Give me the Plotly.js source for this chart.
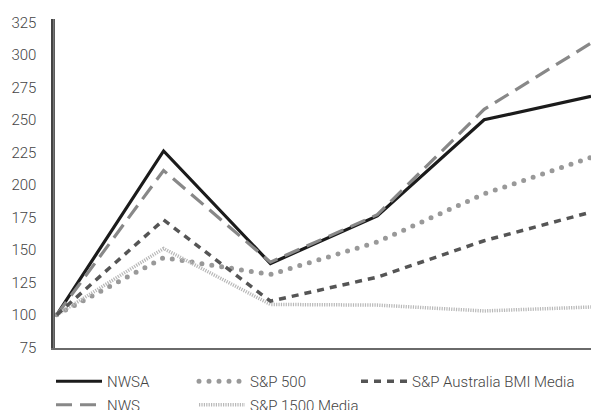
<!DOCTYPE html>
<html>
<head>
<meta charset="utf-8">
<script src="https://cdn.plot.ly/plotly-3.0.1.min.js"></script>
<style>
html,body{margin:0;padding:0;background:#fff;}
#chart{width:591px;height:410px;}
.sp500 .js-line{stroke-linecap:round;}
</style>
</head>
<body>
<div id="chart"></div>
<script>
const periods = [0, 1, 2, 3, 4, 5];
const nwsa = [100, 226, 139.5, 176, 250, 268];
const nws = [100, 211, 140.5, 177, 258, 309];
const sp500 = [100, 144, 131, 156, 193, 221];
const spAusMedia = [100, 173, 110.5, 129, 157, 179];
const sp1500Media = [100, 151, 108, 107.5, 103, 106];
const yTicks = [75, 100, 125, 150, 175, 200, 225, 250, 275, 300, 325];

const font = {family: 'Roboto, "Liberation Sans", Arial, sans-serif', size: 15, color: '#444', weight: 300};

const traces = [
  {x: periods, y: nwsa, name: 'NWSA', mode: 'lines', legend: 'legend', legendgroup: 'a',
   line: {color: '#1b1b1b', width: 3.2, dash: 'solid'}},
  {x: periods, y: nws, name: 'NWS', mode: 'lines', legend: 'legend', legendgroup: 'b',
   line: {color: '#888888', width: 3.2, dash: '16px,8px'}},
  {x: periods, y: sp500, name: 'S&P 500', mode: 'lines', legend: 'legend2', legendgroup: 'c',
   line: {color: '#999999', width: 5, dash: '0px,10px'}},
  {x: periods, y: sp1500Media, name: 'S&P 1500 Media', mode: 'lines', legend: 'legend2', legendgroup: 'd',
   line: {color: '#b8b8b8', width: 3.5, dash: '1.2px,1.2px'}},
  {x: periods, y: spAusMedia, name: 'S&P Australia BMI Media', mode: 'lines', legend: 'legend3', legendgroup: 'e',
   line: {color: '#555555', width: 3.5, dash: '7px,6px'}}
];

const legBase = {orientation: 'v', xref: 'container', yref: 'container', yanchor: 'top', xanchor: 'left',
  font: font, bgcolor: 'rgba(0,0,0,0)', borderwidth: 0, traceorder: 'grouped', tracegroupgap: 1, itemwidth: 46};

const layout = {
  width: 591, height: 410,
  margin: {l: 53, r: 0, t: 19, b: 62, autoexpand: false},
  paper_bgcolor: '#fff', plot_bgcolor: '#fff',
  font: font,
  showlegend: true,
  xaxis: {range: [-0.035, 5], showgrid: false, zeroline: false, showticklabels: false, ticks: '',
    showline: true, linecolor: '#6a6a6a', linewidth: 2, fixedrange: true, automargin: false},
  yaxis: {range: [74.5, 327.5], tickvals: yTicks, ticktext: yTicks.map(String), showgrid: false, zeroline: false,
    showline: true, linecolor: '#444', linewidth: 1.6, ticks: '', ticklabelstandoff: 12, automargin: false,
    tickfont: {family: font.family, size: 15, color: '#444', weight: 300}, fixedrange: true},
  shapes: [
    {type: 'line', xref: 'paper', yref: 'paper', x0: 0.002, x1: 0.002, y0: 0, y1: 1,
     line: {color: '#444', width: 1.6}, layer: 'above'}
  ],
  legend: Object.assign({}, legBase, {x: 51/591, y: 1 - 365/410}),
  legend2: Object.assign({}, legBase, {x: 194/591, y: 1 - 365/410}),
  legend3: Object.assign({}, legBase, {x: 356/591, y: 1 - 365/410})
};

Plotly.newPlot('chart', traces, layout, {displayModeBar: false, staticPlot: true}).then(function(gd){
  const scTraces = gd.querySelectorAll('.scatterlayer .trace');
  if (scTraces[2]) scTraces[2].classList.add('sp500');
  gd.querySelectorAll('.traces').forEach(function(t){
    if (t.textContent.trim() === 'S&P 500') t.classList.add('sp500');
  });
});
</script>
</body>
</html>
